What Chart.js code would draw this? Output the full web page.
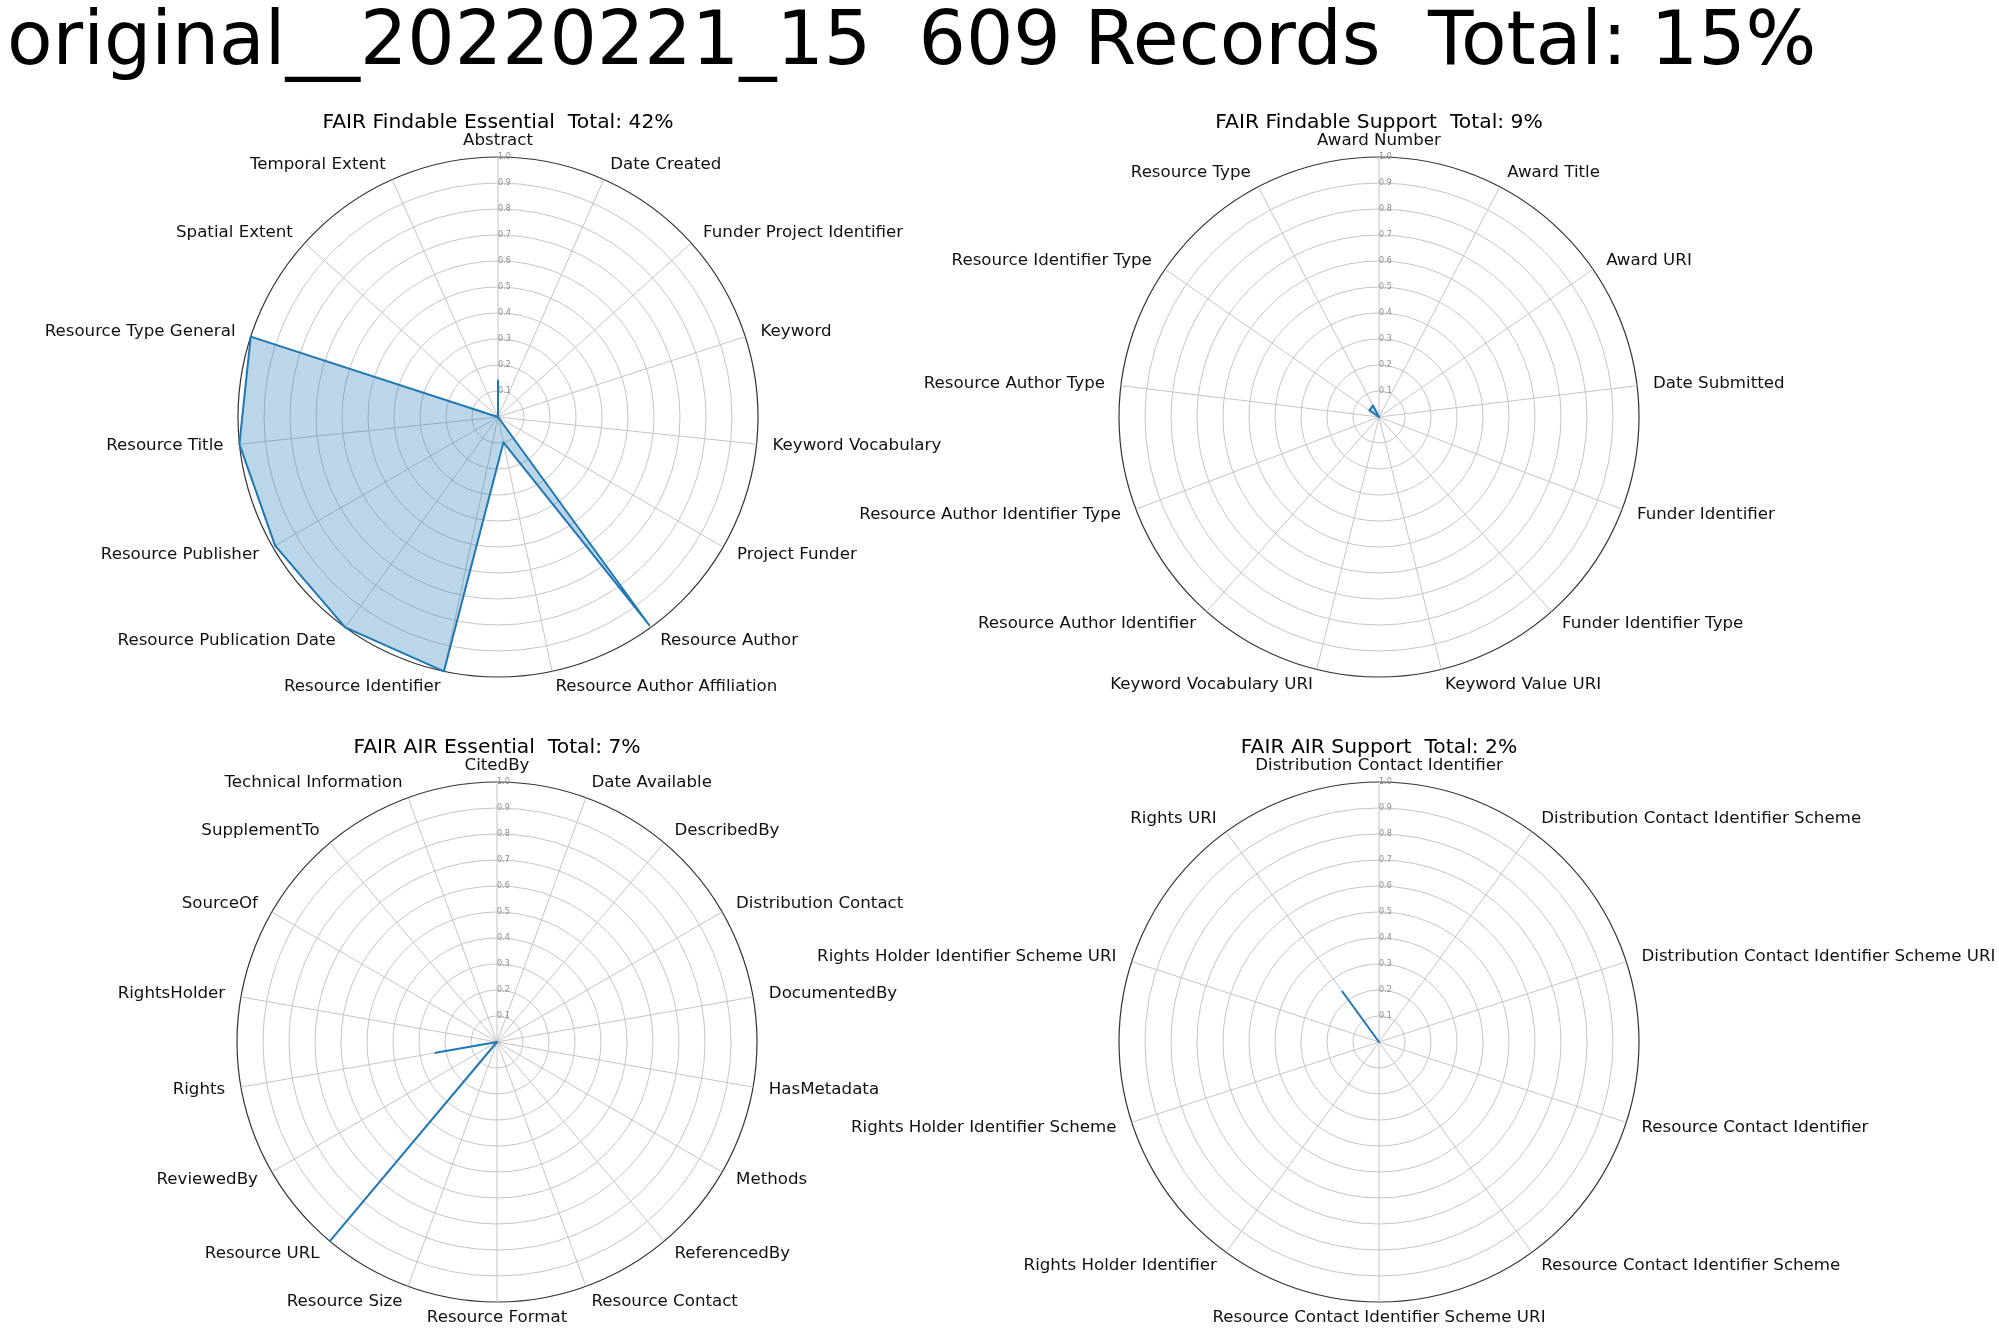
<!DOCTYPE html>
<html>
<head>
<meta charset="utf-8">
<script src="https://cdn.jsdelivr.net/npm/chart.js@4.4.1/dist/chart.umd.min.js"></script>
<style>
  html, body { margin: 0; padding: 0; background: #fff; }
  body { position: relative; width: 1999px; height: 1333px; overflow: hidden; font-family: 'DejaVu Sans', sans-serif; }
  #title { position: absolute; left: 7px; top: 2px; font-size: 74.5px; line-height: 74.5px; white-space: pre; color: #000; }
  .sub { position: absolute; width: 800px; text-align: center; font-size: 20.3px; line-height: 20px; white-space: pre; color: #000; }
  canvas { position: absolute; }
</style>
</head>
<body>
<div id="title">original__20220221_15  609 Records  Total: 15%</div>
<canvas id="c1" width="1400" height="620"></canvas>
<canvas id="c2" width="1400" height="620"></canvas>
<canvas id="c3" width="1400" height="620"></canvas>
<canvas id="c4" width="1400" height="620"></canvas>
<script>
// Data
const findableEssentialLabels = ['Abstract', 'Date Created', 'Funder Project Identifier', 'Keyword', 'Keyword Vocabulary',
    'Project Funder', 'Resource Author', 'Resource Author Affiliation', 'Resource Identifier',
    'Resource Publication Date', 'Resource Publisher', 'Resource Title', 'Resource Type General',
    'Spatial Extent', 'Temporal Extent'];
const findableEssentialValues = [0.14, 0, 0, 0, 0, 0, 0.99, 0.1, 1.0, 1.0, 0.99, 1.0, 1.0, 0, 0];

const findableSupportLabels = ['Award Number', 'Award Title', 'Award URI', 'Date Submitted', 'Funder Identifier',
    'Funder Identifier Type', 'Keyword Value URI', 'Keyword Vocabulary URI', 'Resource Author Identifier',
    'Resource Author Identifier Type', 'Resource Author Type', 'Resource Identifier Type', 'Resource Type'];
const findableSupportValues = [0, 0, 0, 0, 0, 0, 0, 0, 0, 0, 0, 0.045, 0.05];

const airEssentialLabels = ['CitedBy', 'Date Available', 'DescribedBy', 'Distribution Contact', 'DocumentedBy',
    'HasMetadata', 'Methods', 'ReferencedBy', 'Resource Contact', 'Resource Format', 'Resource Size',
    'Resource URL', 'ReviewedBy', 'Rights', 'RightsHolder', 'SourceOf', 'SupplementTo', 'Technical Information'];
const airEssentialValues = [0, 0, 0, 0, 0, 0, 0, 0, 0, 0, 0, 1.0, 0, 0.24, 0, 0, 0, 0];

const airSupportLabels = ['Distribution Contact Identifier', 'Distribution Contact Identifier Scheme',
    'Distribution Contact Identifier Scheme URI', 'Resource Contact Identifier', 'Resource Contact Identifier Scheme',
    'Resource Contact Identifier Scheme URI', 'Rights Holder Identifier', 'Rights Holder Identifier Scheme',
    'Rights Holder Identifier Scheme URI', 'Rights URI'];
const airSupportValues = [0, 0, 0, 0, 0, 0, 0, 0, 0, 0.24];

const subTitles = ['FAIR Findable Essential  Total: 42%', 'FAIR Findable Support  Total: 9%',
    'FAIR AIR Essential  Total: 7%', 'FAIR AIR Support  Total: 2%'];

Chart.defaults.font.family = "'DejaVu Sans', sans-serif";

const RADIUS = 260;

function makeRadar(id, labels, values, title, cx, cy) {
    const canvas = document.getElementById(id);
    const chart = new Chart(canvas, {
        type: 'radar',
        data: {
            labels: labels,
            datasets: [{
                data: values,
                borderColor: '#1f77b4',
                backgroundColor: 'rgba(31, 119, 180, 0.3)',
                borderWidth: 2,
                borderJoinStyle: 'round',
                fill: true,
                pointRadius: 0,
                tension: 0
            }]
        },
        options: {
            responsive: false,
            maintainAspectRatio: false,
            animation: false,
            layout: { padding: 30 },
            plugins: {
                legend: { display: false },
                tooltip: { enabled: false }
            },
            scales: {
                r: {
                    min: 0,
                    max: 1,
                    ticks: {
                        stepSize: 0.1,
                        color: '#8c8c8c',
                        font: { size: 8 },
                        showLabelBackdrop: false,
                        backdropPadding: 1.5,
                        callback: v => '     ' + v.toFixed(1)
                    },
                    grid: {
                        circular: true,
                        color: ctx => (ctx.tick && ctx.tick.value >= 1 ? '#333' : '#c4c4c4'),
                        lineWidth: ctx => (ctx.tick && ctx.tick.value >= 1 ? 1.2 : 1)
                    },
                    angleLines: { color: '#c4c4c4', lineWidth: 1 },
                    pointLabels: {
                        color: '#111',
                        padding: 10.5,
                        font: { size: 16.67, lineHeight: 0 }
                    }
                }
            }
        }
    });

    // grow / shrink the canvas until the outer ring has the wanted radius
    for (let k = 0; k < 6; k++) {
        const d = RADIUS - chart.scales.r.drawingArea;
        if (d === 0) break;
        chart.resize(chart.width, chart.height + 2 * d);
    }
    const s = chart.scales.r;
    canvas.style.left = (cx - s.xCenter) + 'px';
    canvas.style.top = (cy - s.yCenter) + 'px';

    const t = document.createElement('div');
    t.className = 'sub';
    t.textContent = title;
    t.style.left = (cx - 400) + 'px';
    t.style.top = (cy - 306) + 'px';
    document.body.appendChild(t);
    return chart;
}

makeRadar('c1', findableEssentialLabels, findableEssentialValues, subTitles[0], 498, 417);
makeRadar('c2', findableSupportLabels, findableSupportValues, subTitles[1], 1379, 417);
makeRadar('c3', airEssentialLabels, airEssentialValues, subTitles[2], 497, 1042);
makeRadar('c4', airSupportLabels, airSupportValues, subTitles[3], 1379, 1042);
</script>
</body>
</html>
